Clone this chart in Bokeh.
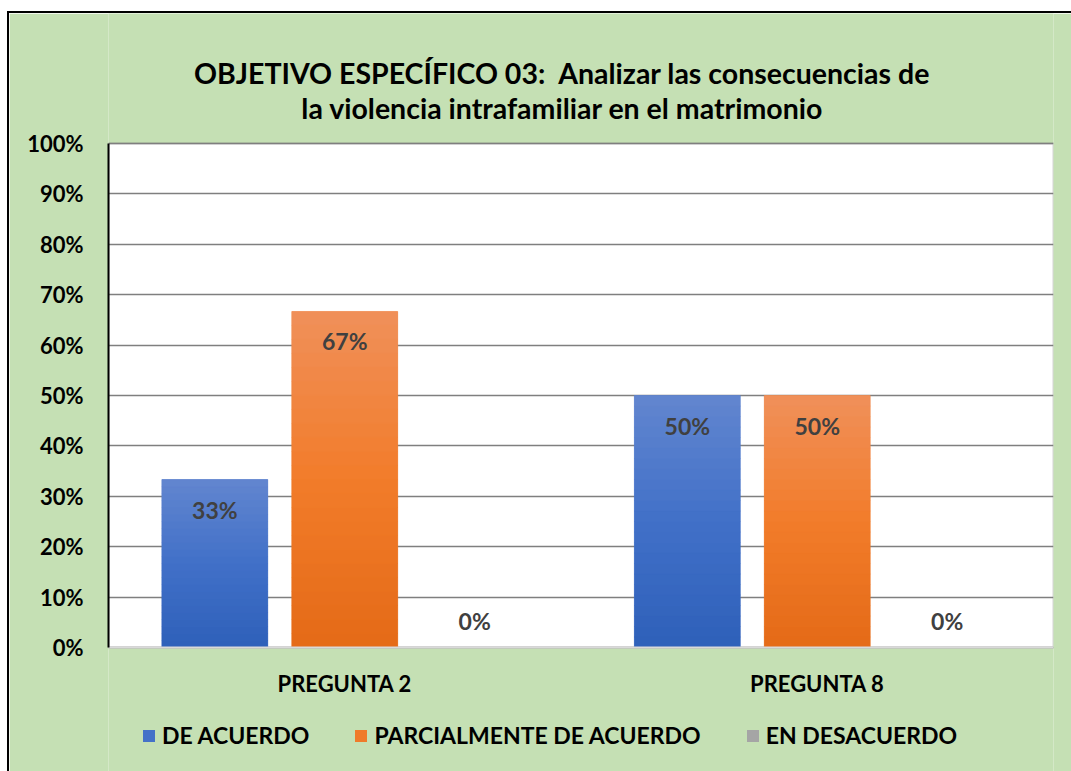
from bokeh.plotting import figure
from bokeh.models import (ColumnDataSource, Range1d, FactorRange, NumeralTickFormatter,
                          FixedTicker, LabelSet, Legend, LegendItem, Label, BoxAnnotation)
from bokeh.core.properties import value
from bokeh.transform import dodge
from bokeh.embed import file_html
from bokeh.resources import INLINE

# ---- data ----
questions = ["PREGUNTA 2", "PREGUNTA 8"]
series_names = ["DE ACUERDO", "PARCIALMENTE DE ACUERDO", "EN DESACUERDO"]
de_acuerdo = [0.3333, 0.50]
parcialmente = [0.6667, 0.50]
desacuerdo = [0.0, 0.0]
value_labels = {
    "DE ACUERDO": ["33%", "50%"],
    "PARCIALMENTE DE ACUERDO": ["67%", "50%"],
    "EN DESACUERDO": ["0%", "0%"],
}
y_ticks = [0.0, 0.1, 0.2, 0.3, 0.4, 0.5, 0.6, 0.7, 0.8, 0.9, 1.0]
title_line1 = "OBJETIVO ESPECÍFICO 03:\u00a0 Analizar las consecuencias de"
title_line2 = "la violencia intrafamiliar en el matrimonio"

# ---- style ----
solid = ["#4472C8", "#EF7B2A", "#A5A5A5"]
grad = [("#2E60B9", "#4170C8", "#6286CF"),
        ("#E46A17", "#F27C2A", "#F0905A"),
        ("#8F8F8F", "#A5A5A5", "#B8B8B8")]
offsets = [-0.275, 0.0, 0.275]
FONT = "Lato"
GREEN = "#C5E0B4"
NSEG = 24
PX = 504.0  # pixels per 100 % on the value axis


def hex2rgb(h):
    h = h.lstrip("#")
    return tuple(int(h[i:i + 2], 16) for i in (0, 2, 4))


def mix(c1, c2, t):
    a, b = hex2rgb(c1), hex2rgb(c2)
    return "#%02x%02x%02x" % tuple(round(a[i] + (b[i] - a[i]) * t) for i in range(3))


def grad_color(stops, t):
    if t < 0.5:
        return mix(stops[0], stops[1], t / 0.5)
    return mix(stops[1], stops[2], (t - 0.5) / 0.5)


# frame spans the whole chart height: 130 px above 100 %, 124 px below 0 %
p = figure(x_range=FactorRange(factors=questions),
           y_range=Range1d(-124 / PX, 1 + 130 / PX),
           frame_width=945, frame_height=758, output_backend="svg", toolbar_location=None,
           background_fill_color=GREEN, border_fill_color=GREEN,
           min_border_left=99, min_border_right=18,
           min_border_top=0, min_border_bottom=0)
p.title = None
p.styles = {"border-left": "2px solid black", "border-top": "2px solid black",
            "margin-left": "7px", "margin-top": "11px"}
p.outline_line_color = None

# white plot area
p.add_layout(BoxAnnotation(bottom=0, top=1, fill_color="white", fill_alpha=1,
                           line_color="#6F6F6F", line_width=2, level="image"))

# title (two centred lines)
for txt, dy in ((title_line1, 71), (title_line2, 36)):
    p.add_layout(Label(x=(562 - 108) / 472.5, y=1 + dy / PX, text=txt,
                       text_align="center", text_baseline="middle",
                       text_font=FONT, text_font_style="bold",
                       text_font_size="28.5px", text_color="black"))

legend_items = []
for name, vals, col, stops, off in zip(series_names, [de_acuerdo, parcialmente, desacuerdo],
                                        solid, grad, offsets):
    xs = dodge("q", off, range=p.x_range)
    src = ColumnDataSource(dict(q=questions, v=vals))
    r = p.vbar(x=xs, top="v", width=0.224, source=src, fill_color=col, line_color=None)
    legend_items.append(LegendItem(label=name, renderers=[r]))
    # vertical gradient: split each bar into thin slices of its own height
    for k in range(NSEG):
        seg = ColumnDataSource(dict(q=questions,
                                    b=[v * k / NSEG for v in vals],
                                    t=[v * (k + 1) / NSEG for v in vals]))
        c = grad_color(stops, (k + 0.5) / NSEG)
        p.vbar(x=xs, bottom="b", top="t", width=0.224, source=seg,
               fill_color=c, line_color=c, line_width=0.6)
    offs = [-30 if v > 0 else 27 for v in vals]
    lsrc = ColumnDataSource(dict(q=questions, v=vals, lab=value_labels[name], yo=offs))
    p.add_layout(LabelSet(x=xs, y="v", text="lab", source=lsrc, y_offset="yo",
                          text_align="center", text_baseline="middle",
                          text_font=value(FONT), text_font_style="bold",
                          text_font_size="23px", text_color="#404040"))

# axes
p.yaxis.ticker = FixedTicker(ticks=y_ticks)
p.yaxis.bounds = (0, 1)
p.yaxis.formatter = NumeralTickFormatter(format="0%")
p.yaxis.major_label_text_font = FONT
p.yaxis.major_label_text_font_style = "bold"
p.yaxis.major_label_text_font_size = "22px"
p.yaxis.major_label_text_color = "black"
p.yaxis.axis_line_color = "black"
p.yaxis.axis_line_width = 2
p.yaxis.major_tick_line_color = None
p.yaxis.major_tick_out = 0
p.yaxis.major_tick_in = 0
p.yaxis.minor_tick_line_color = None
p.yaxis.major_label_standoff = 25

p.xaxis.fixed_location = 0
p.xaxis.major_label_text_font = FONT
p.xaxis.major_label_text_font_style = "bold"
p.xaxis.major_label_text_font_size = "22px"
p.xaxis.major_label_text_color = "black"
p.xaxis.axis_line_color = "#D9D9D9"
p.xaxis.axis_line_width = 2
p.xaxis.major_tick_line_color = None
p.xaxis.major_tick_out = 0
p.xaxis.major_tick_in = 0
p.xaxis.minor_tick_line_color = None
p.xaxis.major_label_standoff = 22

p.xgrid.grid_line_color = None
p.ygrid.grid_line_color = "#7F7F7F"
p.ygrid.grid_line_width = 1.5

legend = Legend(items=legend_items, orientation="horizontal", location=(33, 22),
                border_line_color=None, background_fill_alpha=0,
                label_text_font=FONT, label_text_font_style="bold",
                label_text_font_size="23px", label_text_color="black",
                glyph_width=15, glyph_height=15, spacing=44, label_standoff=6,
                label_height=22, padding=0, margin=0)
p.add_layout(legend, "center")

open("out.html", "w").write(file_html(p, INLINE))
